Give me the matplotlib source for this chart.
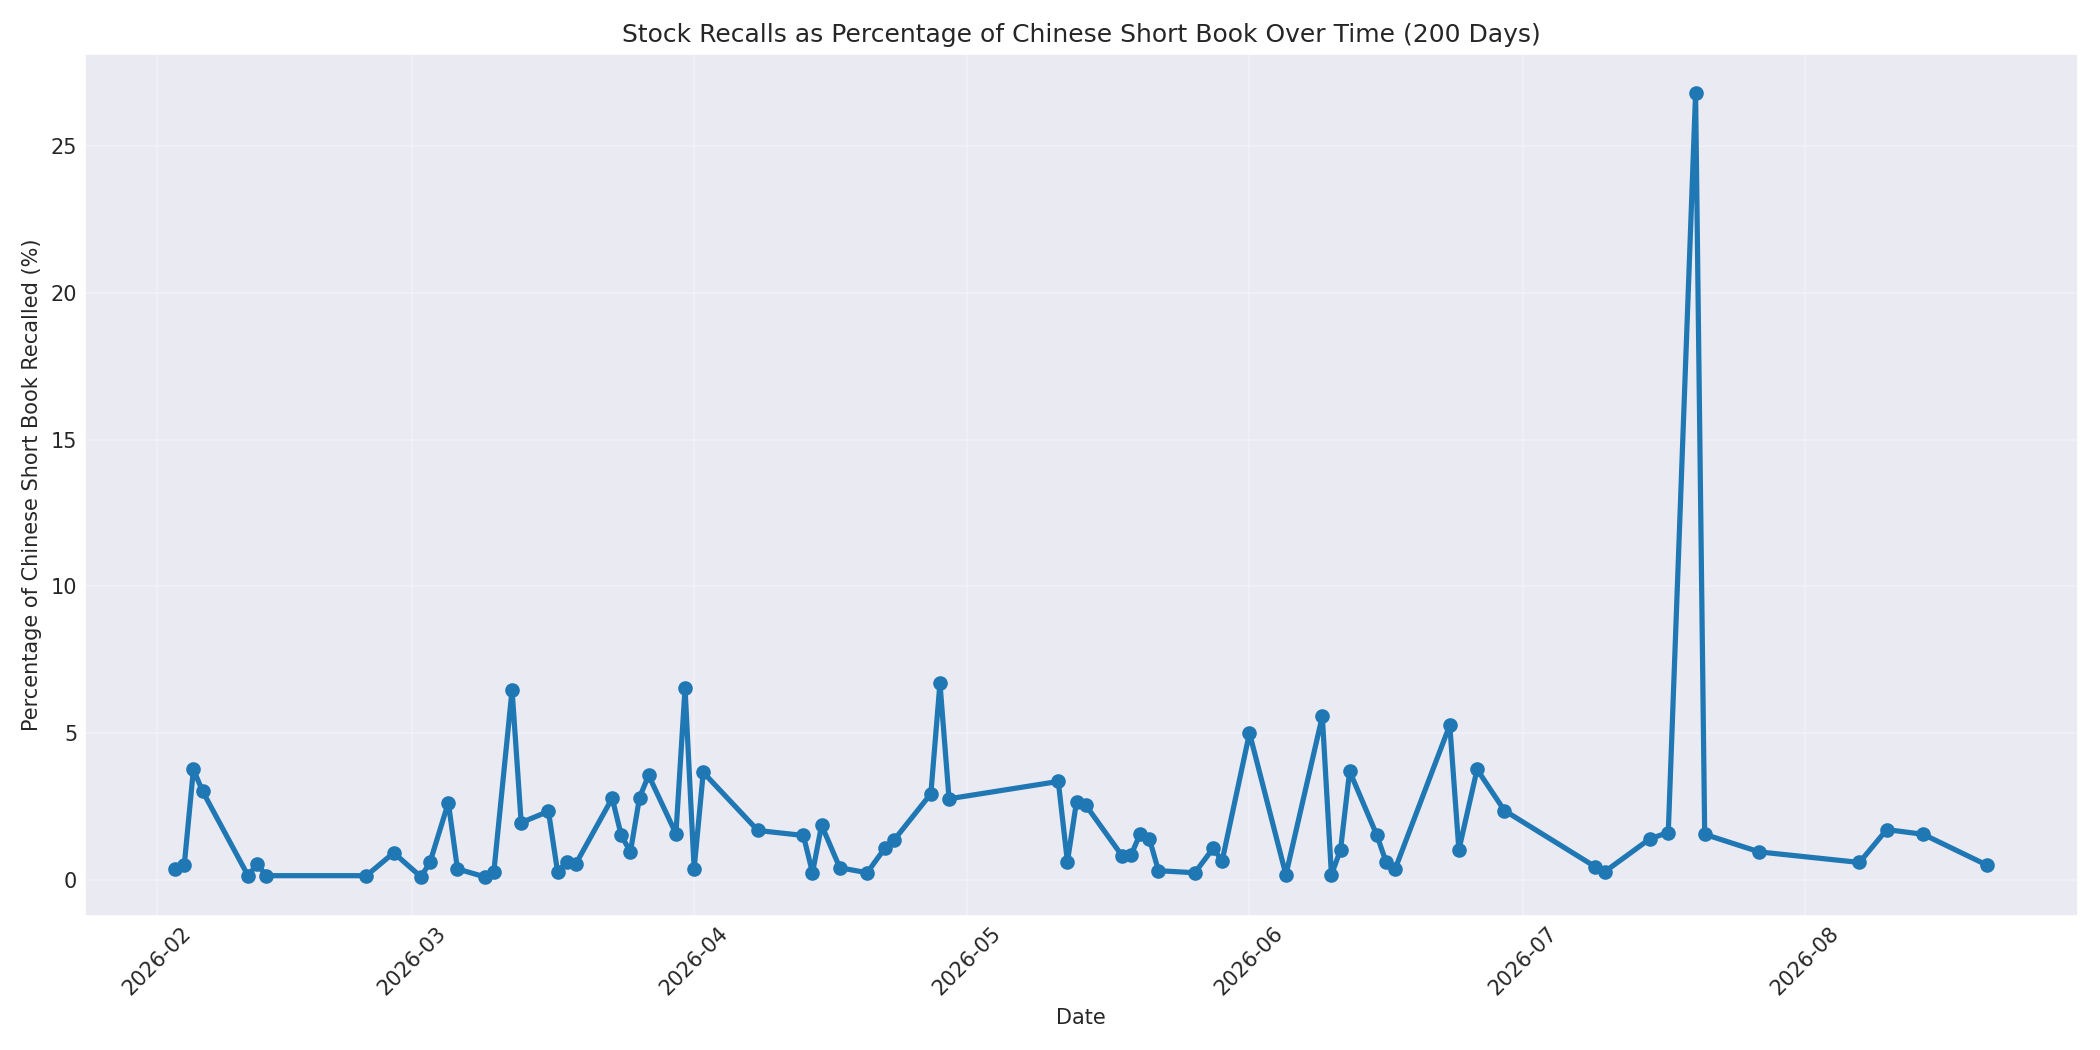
import pandas as pd
import matplotlib
matplotlib.use('Agg')
import matplotlib.pyplot as plt
import seaborn as sns

# recall dates and % of short book recalled
dates = ['2026-02-03', '2026-02-04', '2026-02-05', '2026-02-06', '2026-02-11',
         '2026-02-12', '2026-02-13', '2026-02-24', '2026-02-27',
         '2026-03-02', '2026-03-03', '2026-03-05', '2026-03-06', '2026-03-09',
         '2026-03-10', '2026-03-12', '2026-03-13', '2026-03-16', '2026-03-17',
         '2026-03-18', '2026-03-19', '2026-03-23', '2026-03-24', '2026-03-25',
         '2026-03-26', '2026-03-27', '2026-03-30', '2026-03-31',
         '2026-04-01', '2026-04-02', '2026-04-08', '2026-04-13', '2026-04-14',
         '2026-04-15', '2026-04-17', '2026-04-20', '2026-04-22', '2026-04-23',
         '2026-04-27', '2026-04-28', '2026-04-29',
         '2026-05-11', '2026-05-12', '2026-05-13', '2026-05-14', '2026-05-18',
         '2026-05-19', '2026-05-20', '2026-05-21', '2026-05-22', '2026-05-26',
         '2026-05-28', '2026-05-29',
         '2026-06-01', '2026-06-05', '2026-06-09', '2026-06-10', '2026-06-11',
         '2026-06-12', '2026-06-15', '2026-06-16', '2026-06-17', '2026-06-23',
         '2026-06-24', '2026-06-26', '2026-06-29',
         '2026-07-09', '2026-07-10', '2026-07-15', '2026-07-17', '2026-07-20',
         '2026-07-21', '2026-07-27',
         '2026-08-07', '2026-08-10', '2026-08-14', '2026-08-21']

recall_pct = [0.37, 0.52, 3.76, 3.02, 0.14, 0.54, 0.14, 0.14, 0.92, 0.10,
              0.61, 2.63, 0.37, 0.10, 0.27, 6.47, 1.95, 2.33, 0.27, 0.61,
              0.54, 2.78, 1.51, 0.95, 2.80, 3.56, 1.57, 6.53, 0.37, 3.66,
              1.68, 1.51, 0.24, 1.86, 0.41, 0.24, 1.10, 1.37, 2.93, 6.70,
              2.76, 3.35, 0.61, 2.66, 2.55, 0.82, 0.85, 1.57, 1.40, 0.31,
              0.24, 1.07, 0.65, 5.00, 0.17, 5.57, 0.17, 1.02, 3.70, 1.51,
              0.61, 0.37, 5.27, 1.02, 3.76, 2.36, 0.44, 0.27, 1.40, 1.61,
              26.8, 1.55, 0.95, 0.59, 1.71, 1.55, 0.50]

df = pd.DataFrame({'date': pd.to_datetime(dates), 'pct': recall_pct})

sns.set_style('darkgrid')
plt.rcParams['xtick.major.size'] = 0
plt.rcParams['ytick.major.size'] = 0
plt.rcParams['font.family'] = ['DejaVu Sans']

fig = plt.figure(figsize=(14, 7), dpi=150)
plt.plot(df['date'], df['pct'], marker='o', linewidth=2.5, markersize=6, color='#1f77b4')
plt.title('Stock Recalls as Percentage of Chinese Short Book Over Time (200 Days)')
plt.xlabel('Date')
plt.ylabel('Percentage of Chinese Short Book Recalled (%)')
plt.xticks(rotation=45)
plt.grid(True, alpha=0.3)
plt.tight_layout()
plt.savefig('out.png', dpi=150)
